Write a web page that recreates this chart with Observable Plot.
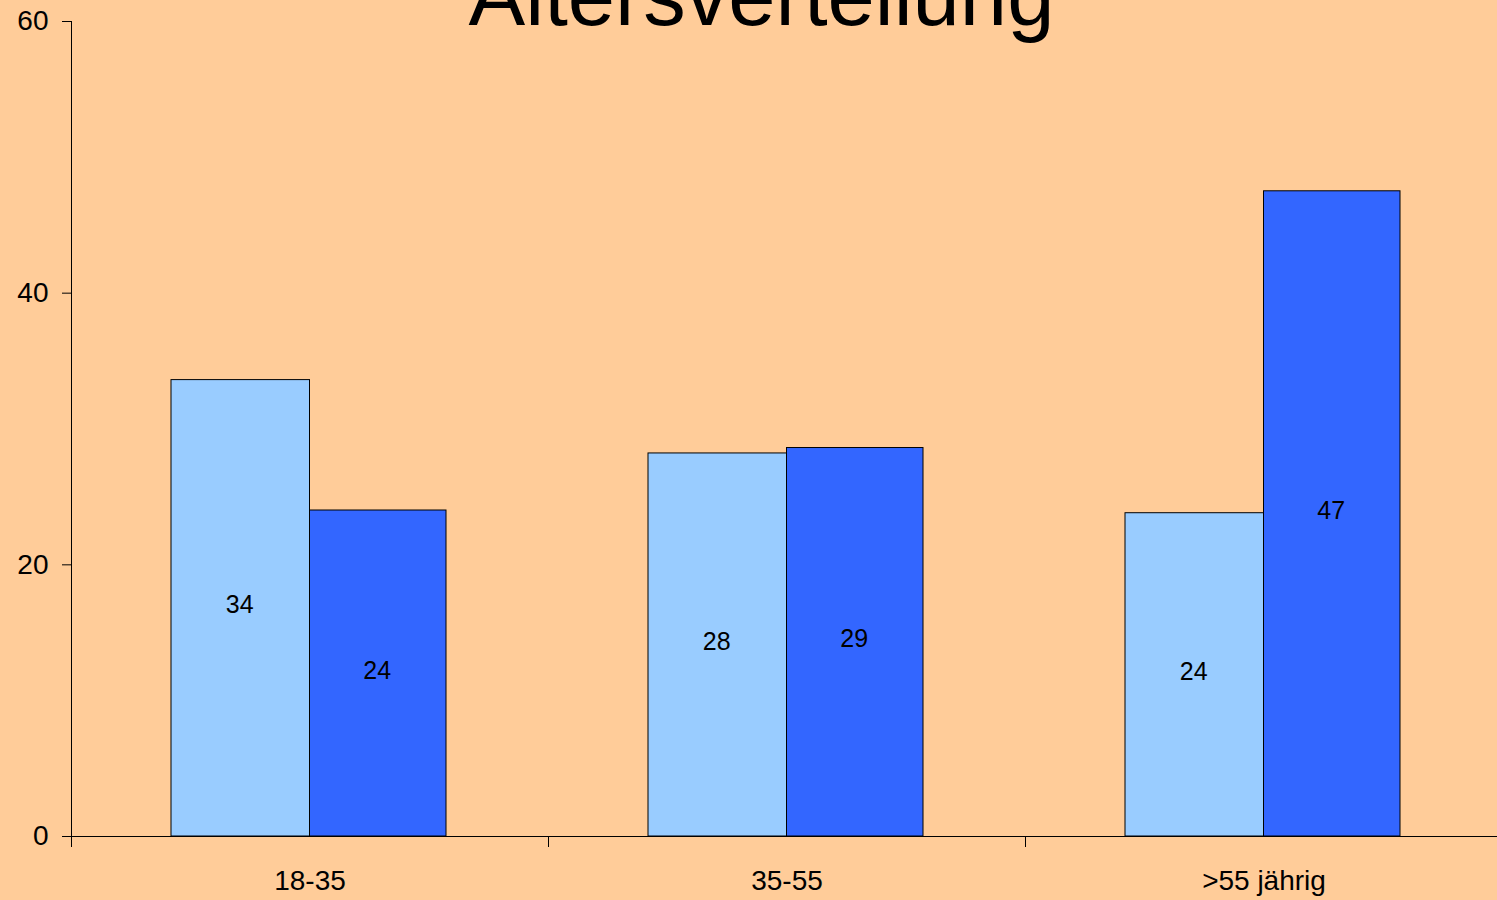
<!DOCTYPE html>
<html>
<head>
<meta charset="utf-8">
<script src="https://cdn.jsdelivr.net/npm/d3@7"></script>
<script src="https://cdn.jsdelivr.net/npm/@observablehq/plot@0.6"></script>
<style>
  html, body { margin: 0; padding: 0; background: #FFCC99; overflow: hidden; }
  #wrap { position: relative; width: 1497px; height: 900px; }
  #title {
    position: absolute; top: -47px; left: 0; width: 1523px;
    text-align: center; font-family: "Liberation Sans", Arial, sans-serif;
    font-size: 85px; line-height: 85px; color: #000; z-index: 2;
  }
  #chart { position: absolute; top: 0; left: 0; }
</style>
</head>
<body>
<div id="wrap">
  <div id="chart"></div>
  <div id="title">Altersverteilung</div>
</div>
<script>
const categories = ["18-35", "35-55", ">55 jährig"];
const seriesA = [33.6, 28.2, 23.8];   // light blue
const seriesB = [24.0, 28.6, 47.5];   // dark blue
const labelsA = ["34", "28", "24"];
const labelsB = ["24", "29", "47"];
const yTicks = [0, 20, 40, 60];

const dataA = categories.map((c, i) => ({cat: c, value: seriesA[i], label: labelsA[i]}));
const dataB = categories.map((c, i) => ({cat: c, value: seriesB[i], label: labelsB[i]}));

const band = 477;
const outerL = 100;
const outerR = 102;
const half = band / 2;

const chart = Plot.plot({
  width: 1497,
  height: 900,
  marginLeft: 71,
  marginRight: -5,
  marginTop: 21,
  marginBottom: 64,
  style: {background: "#FFCC99", fontFamily: "'Liberation Sans', Arial, sans-serif", color: "#000", overflow: "visible"},
  x: {domain: categories, paddingInner: 0, paddingOuter: 0, axis: null, label: null},
  y: {domain: [0, 60], axis: null, label: null},
  marks: [
    Plot.barY(dataA, {x: "cat", y: "value", fill: "#99CCFF", stroke: "#000", strokeWidth: 1, insetLeft: outerL, insetRight: half}),
    Plot.barY(dataB, {x: "cat", y: "value", fill: "#3366FF", stroke: "#000", strokeWidth: 1, insetLeft: half, insetRight: outerR}),
    Plot.text(dataA, {x: "cat", y: d => d.value / 2, text: "label", dx: -(half - outerL) / 2 - 1, dy: -3, fontSize: 25, fill: "#000"}),
    Plot.text(dataB, {x: "cat", y: d => d.value / 2, text: "label", dx: (half - outerR) / 2 - 1, dy: -3, fontSize: 25, fill: "#000"}),
    Plot.ruleY([0], {stroke: "#000", strokeWidth: 1}),
    Plot.frame({anchor: "left", stroke: "#000", strokeWidth: 1}),
    Plot.axisY({ticks: yTicks, tickSize: 9, tickPadding: 14, fontSize: 28, stroke: "#000", label: null}),
    Plot.axisX({tickSize: 0, tickPadding: 34, fontSize: 28, label: null}),
    Plot.axisX({tickSize: 11, tickFormat: () => "", dx: -half, stroke: "#000", label: null})
  ]
});
document.getElementById("chart").appendChild(chart);
</script>
</body>
</html>
